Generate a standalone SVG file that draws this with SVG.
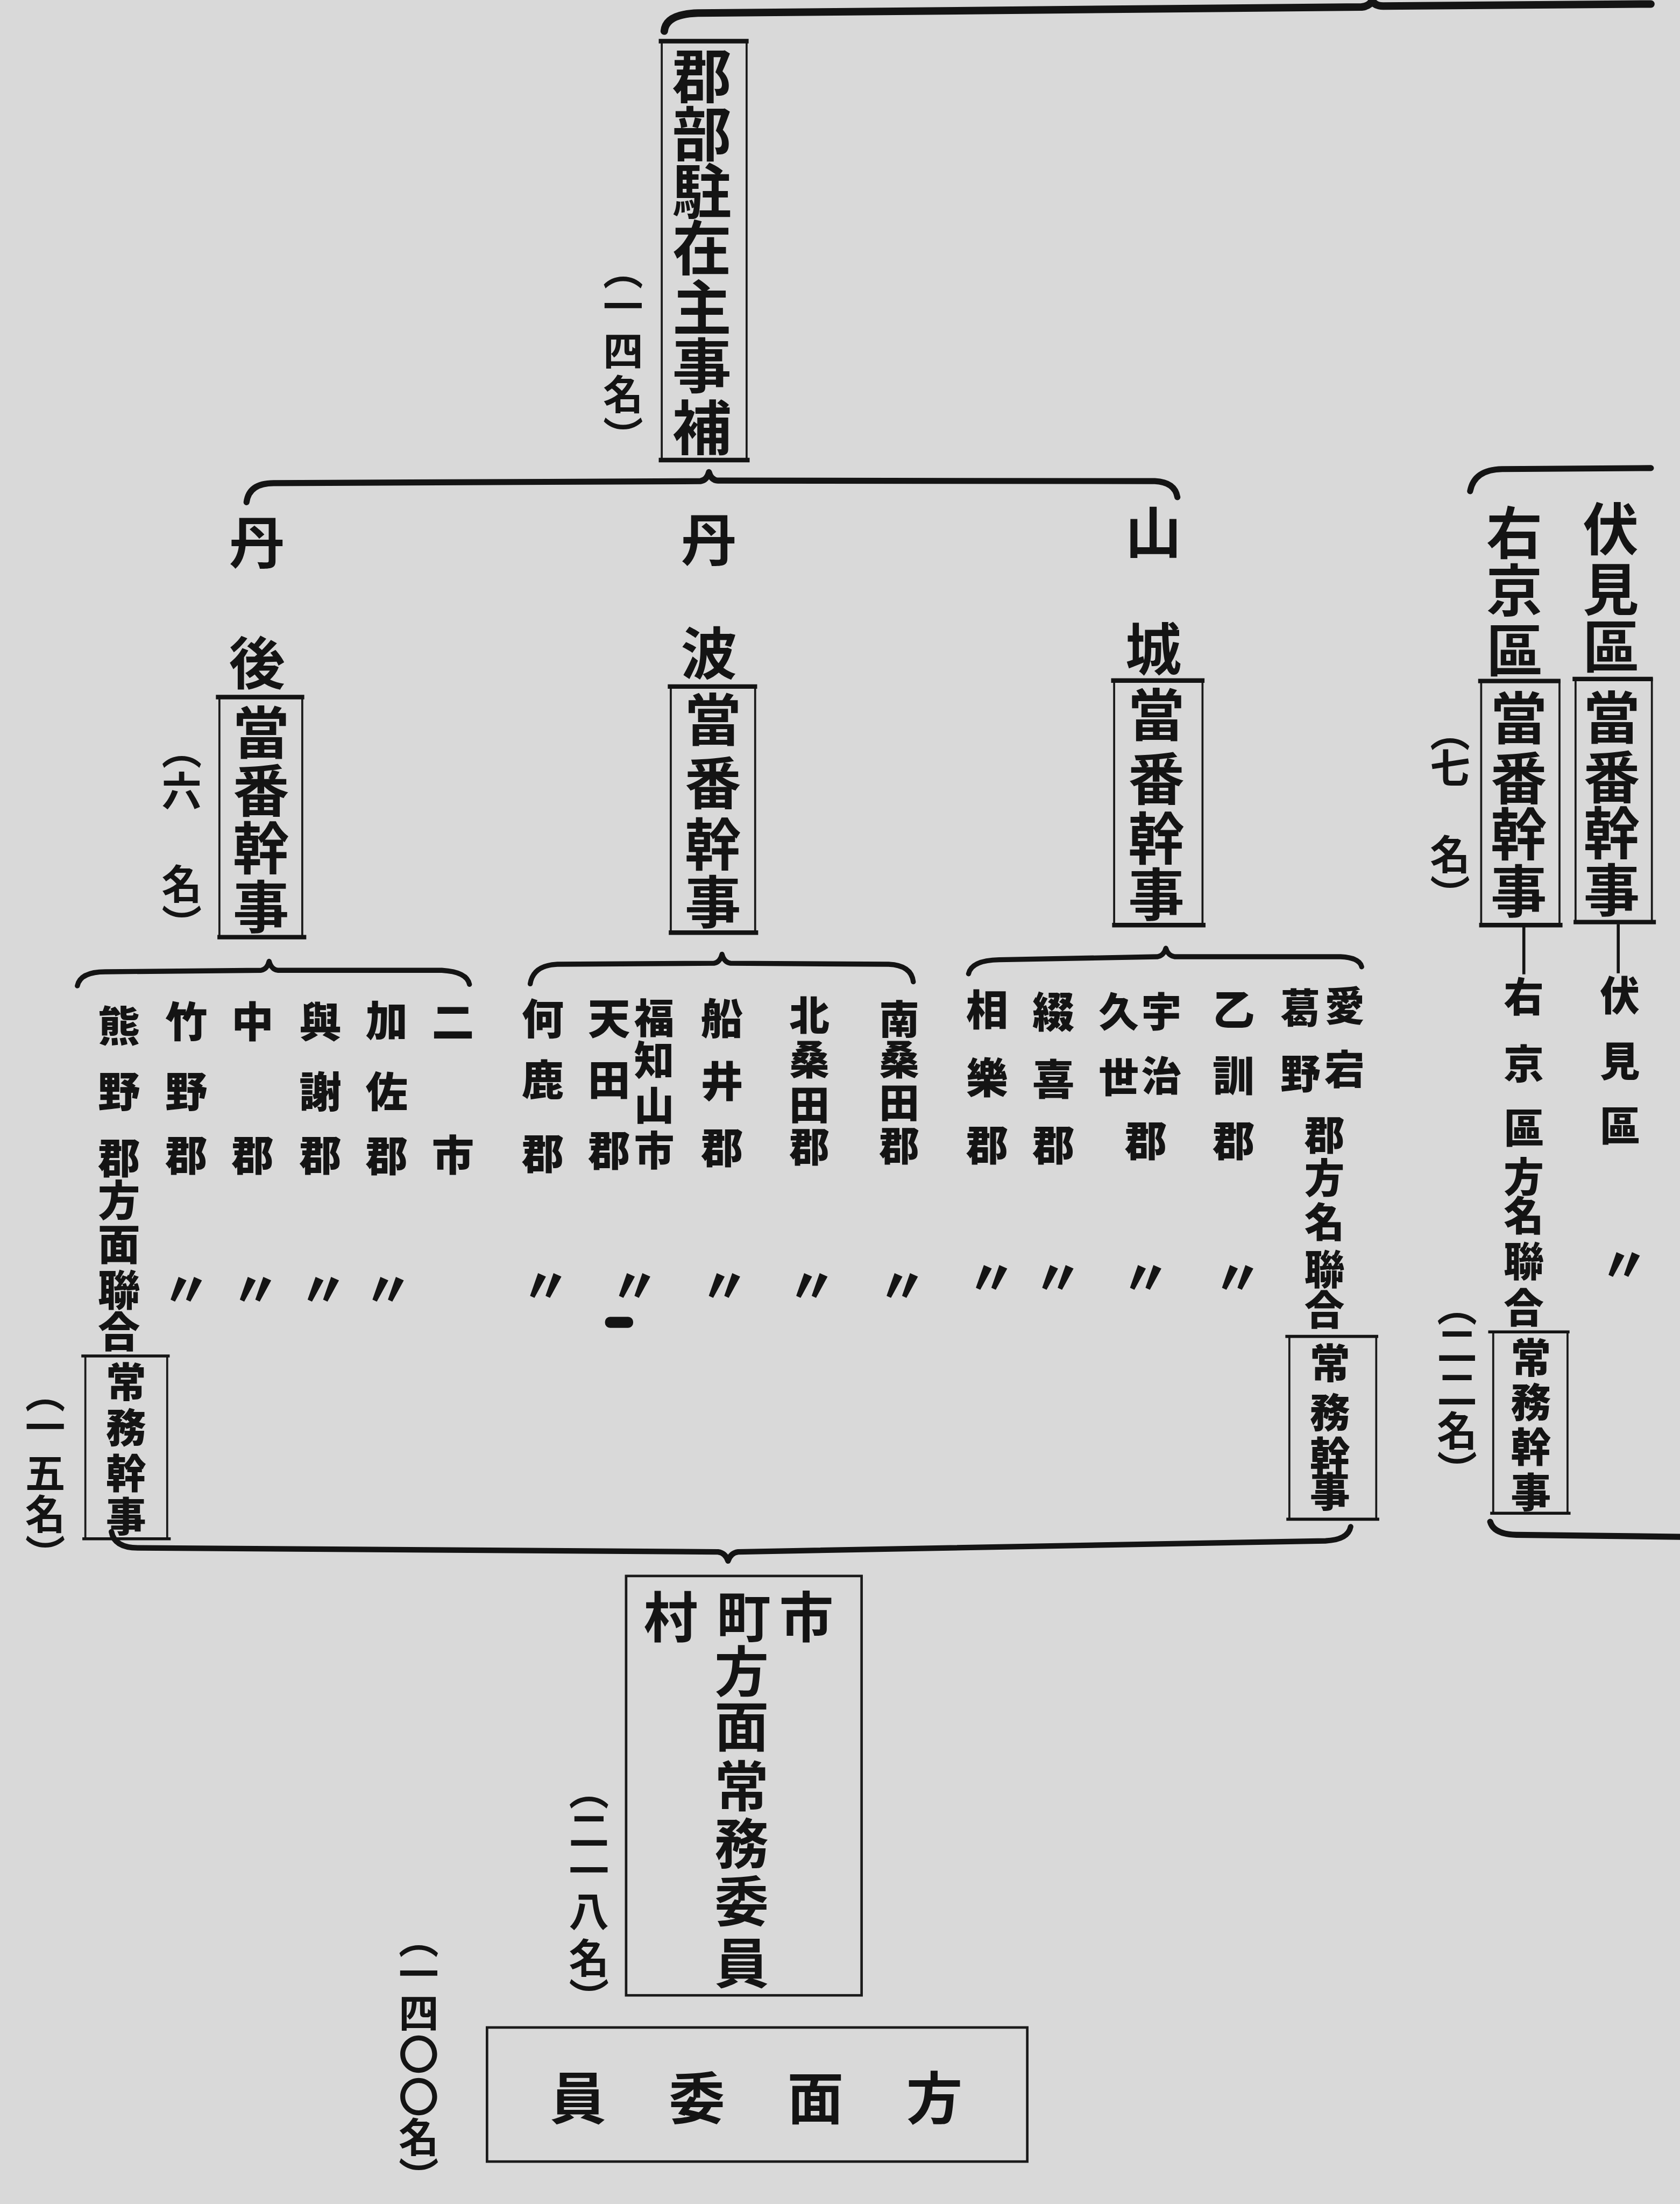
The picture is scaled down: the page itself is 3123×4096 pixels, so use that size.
<svg xmlns="http://www.w3.org/2000/svg" width="3123" height="4096" viewBox="0 0 3123 4096">
<style>
.t{font-family:"Noto Sans CJK JP","Noto Sans CJK SC",sans-serif;fill:#141414}
.v{writing-mode:vertical-rl}
.h1{font-size:118px;font-weight:700}
.h2{font-size:112px;font-weight:700}
.h3{font-size:108px;font-weight:700}
.l{font-size:84px;font-weight:900}
.s{font-size:80px;font-weight:900}
.c{font-size:80px;font-weight:700}
.dm{font-size:96px;font-weight:900;text-anchor:middle;dominant-baseline:central}
.hc{text-anchor:middle;dominant-baseline:central}
.brace{fill:none;stroke:#141414;stroke-width:12;stroke-linecap:round;stroke-linejoin:round}
.stem{stroke:#141414;stroke-width:6}
.frame{fill:none;stroke:#1a1a1a;stroke-width:4}
.bar{fill:none;stroke:#141414;stroke-width:9}
.thin{fill:none;stroke:#1a1a1a;stroke-width:5}
</style>
<rect width="3123" height="4096" fill="#d9d9d9"/>
<g transform="scale(0.93335)">
<g id="connectors">
<path class="brace" style="stroke-width:15" d="M1323,62 Q1326,28 1390,26 L2712,14 Q2728,12 2733,1 Q2738,12 2755,12 L3288,8"/>
<path class="brace" d="M491,1000 Q496,962 545,962 L1395,958 Q1408,956 1412,940 Q1416,956 1430,957 L2300,958 Q2340,960 2345,990"/>
<path class="brace" d="M2928,978 Q2936,935 2992,934 L3288,932"/>
<path class="brace" style="stroke-width:10" d="M154,1963 Q160,1935 210,1935 L520,1932 Q532,1930 536,1914 Q540,1930 553,1932 L880,1932 Q930,1935 935,1960"/>
<path class="brace" style="stroke-width:10" d="M1056,1959 Q1062,1922 1110,1920 L1422,1918 Q1434,1916 1438,1900 Q1442,1916 1455,1918 L1770,1920 Q1815,1922 1819,1955"/>
<path class="brace" style="stroke-width:10" d="M1929,1939 Q1935,1912 1990,1911 L2305,1905 Q2318,1903 2322,1888 Q2326,1903 2340,1905 L2670,1905 Q2708,1907 2712,1925"/>
<path class="brace" style="stroke-width:11" d="M222,3050 Q228,3082 275,3082 L1430,3090 Q1445,3092 1450,3108 Q1455,3092 1470,3090 L2640,3068 Q2685,3066 2690,3040"/>
<path class="brace" d="M2968,3030 Q2975,3055 3020,3056 L3346,3060"/>
<line class="stem" x1="3223" y1="1840" x2="3223" y2="1938"/>
<line class="stem" x1="3035" y1="1846" x2="3035" y2="1940"/>
</g>

<g id="gunbu">
<rect class="frame" x="1318" y="82" width="169" height="834"/>
<path class="bar" d="M1312,82 H1491 M1312,916 H1493"/>
<text class="t v h1" x="1398" y="91 207 321 434 553 669 792">郡部駐在主事補</text>
<text class="t v c" x="1241" y="497 569 658 745 828">（一四名）</text>
</g>

<g id="tango">
<text class="t v h2" x="512" y="1023 1263">丹後</text>
<rect class="frame" x="437" y="1388" width="165" height="478"/>
<path class="bar" d="M430,1388 H606 M433,1866 H610"/>
<text class="t v h2" x="520" y="1401 1517 1632 1749">當番幹事</text>
<text class="t v c" x="362" y="1452 1535 1611 1720 1800">（六　名）</text>
</g>

<g id="tanba">
<text class="t v h2" x="1412" y="1018 1244">丹波</text>
<rect class="frame" x="1336" y="1367" width="168" height="490"/>
<path class="bar" d="M1330,1367 H1508 M1332,1857 H1510"/>
<text class="t v h2" x="1420" y="1376 1502 1624 1739">當番幹事</text>
</g>

<g id="yamashiro">
<text class="t v h2" x="2297" y="1003 1235">山城</text>
<rect class="frame" x="2219" y="1355" width="176" height="487"/>
<path class="bar" d="M2213,1355 H2399 M2215,1842 H2401"/>
<text class="t v h2" x="2303" y="1366 1494 1612 1724">當番幹事</text>
</g>

<g id="fushimi">
<text class="t v h2" x="3208" y="996 1116 1230">伏見區</text>
<rect class="frame" x="3138" y="1352" width="152" height="484"/>
<path class="bar" d="M3132,1352 H3292 M3134,1836 H3298"/>
<text class="t v h2" x="3210" y="1371 1490 1602 1715">當番幹事</text>
<text class="t v s" x="3226" y="1942 2072 2201">伏見區</text>
<text class="t dm" x="3235" y="2510">〃</text>
</g>

<g id="ukyo">
<text class="t v h2" x="3016" y="1004 1119 1237">右京區</text>
<rect class="frame" x="2950" y="1356" width="156" height="486"/>
<path class="bar" d="M2944,1356 H3108 M2946,1842 H3112"/>
<text class="t v h2" x="3025" y="1373 1492 1604 1717">當番幹事</text>
<text class="t v c" x="2888" y="1417 1488 1574 1661 1741">（七　名）</text>
<text class="t v s" x="3035" y="1944 2078 2205 2303 2380 2471 2563">右京區方名聯合</text>
<rect class="frame" x="2974" y="2652" width="148" height="361"/>
<path class="bar" style="stroke-width:6" d="M2964,2652 H3126 M2968,3013 H3128"/>
<text class="t v s" x="3049" y="2663 2752 2841 2931">常務幹事</text>
<text class="t v c" x="2902" y="2561 2638 2725 2809 2888">（二二名）</text>
</g>

<g id="tango-list">
<text class="t v l" x="902" y="1992 2257">二市</text>
<text class="t v l" x="770" y="1990 2131 2259">加佐郡</text>
<text class="t v l" x="638" y="1992 2131 2258">與謝郡</text>
<text class="t v l" x="503" y="1992 2258">中郡</text>
<text class="t v l" x="371" y="1992 2131 2258">竹野郡</text>
<text class="t v l" x="237" y="2000 2131 2263 2348 2435 2526 2609">熊野郡方面聯合</text>
<text class="t dm" x="773" y="2560">〃</text>
<text class="t dm" x="644" y="2560">〃</text>
<text class="t dm" x="509" y="2560">〃</text>
<text class="t dm" x="371" y="2560">〃</text>
<rect class="frame" x="170" y="2700" width="163" height="364"/>
<path class="bar" style="stroke-width:6" d="M162,2700 H338 M164,3064 H340"/>
<text class="t v s" x="251" y="2711 2802 2893 2979">常務幹事</text>
<text class="t v c" x="90" y="2734 2801 2892 2975 3055">（一五名）</text>
</g>

<g id="tanba-list">
<text class="t v s" x="1791" y="1989 2069 2155 2241">南桑田郡</text>
<text class="t v s" x="1612" y="1981 2069 2159 2243">北桑田郡</text>
<text class="t v l" x="1438" y="1985 2111 2243">船井郡</text>
<text class="t v s" x="1303" y="1987 2070 2160 2250">福知山市</text>
<text class="t v l" x="1213" y="1985 2108 2248">天田郡</text>
<text class="t v l" x="1081" y="1986 2108 2254">何鹿郡</text>
<text class="t dm" x="1797" y="2552">〃</text>
<text class="t dm" x="1617" y="2552">〃</text>
<text class="t dm" x="1443" y="2552">〃</text>
<text class="t dm" x="1264" y="2552">〃</text>
<text class="t dm" x="1087" y="2552">〃</text>
<rect x="1205" y="2622" width="56" height="22" rx="10" fill="#141414"/>
</g>

<g id="yamashiro-list">
<text class="t v s" x="2678" y="1962 2089">愛宕</text>
<text class="t v s" x="2590" y="1966 2097">葛野</text>
<text class="t v s" x="2638" y="2219 2305 2393 2487 2567">郡方名聯合</text>
<text class="t v l" x="2457" y="1968 2099 2229">乙訓郡</text>
<text class="t v s" x="2313" y="1974 2101">宇治</text>
<text class="t v s" x="2228" y="1974 2105">久世</text>
<text class="t v l" x="2282" y="2229">郡</text>
<text class="t v l" x="2098" y="1972 2106 2237">綴喜郡</text>
<text class="t v l" x="1966" y="1968 2103 2237">相樂郡</text>
<text class="t dm" x="2465" y="2536">〃</text>
<text class="t dm" x="2282" y="2536">〃</text>
<text class="t dm" x="2107" y="2536">〃</text>
<text class="t dm" x="1975" y="2536">〃</text>
<rect class="frame" x="2568" y="2661" width="173" height="364"/>
<path class="bar" style="stroke-width:6" d="M2560,2661 H2745 M2562,3025 H2747"/>
<text class="t v s" x="2649" y="2673 2772 2859 2930">常務幹事</text>
</g>

<g id="shichoson">
<rect class="thin" x="1247" y="3138" width="469" height="835"/>
<text class="t h3 hc" x="1606 1481 1336" y="3213">市町村</text>
<text class="t v h3" x="1477" y="3273 3383 3502 3616 3731 3854">方面常務委員</text>
<text class="t v c" x="1173" y="3524 3604 3684 3765 3858 3938">（二一八名）</text>
</g>

<g id="homen">
<rect class="thin" x="970" y="4037" width="1076" height="267"/>
<text class="t h2 hc" x="1861 1624 1388 1151" y="4170">方面委員</text>
<text class="t v c" x="834" y="3820 3890 3968 4050 4135 4215 4295">（一四〇〇名）</text>
</g>
</g>
</svg>
